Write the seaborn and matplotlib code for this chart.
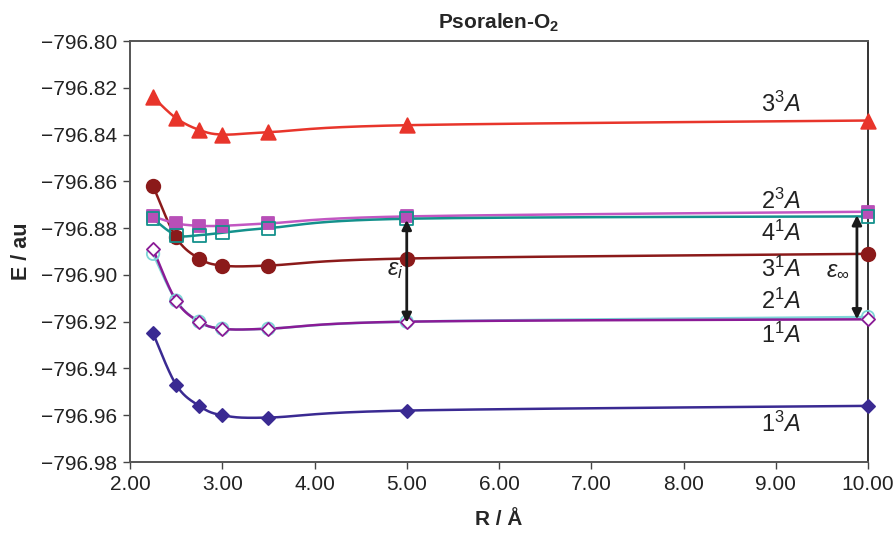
import numpy as np
import pandas as pd
import matplotlib
matplotlib.use("Agg")
import matplotlib.pyplot as plt
import seaborn as sns

# ---- data ----
R = [2.25, 2.5, 2.75, 3.0, 3.5, 5.0, 10.0]
E_3_3A = [-796.824, -796.833, -796.838, -796.840, -796.839, -796.836, -796.834]
E_2_3A = [-796.875, -796.878, -796.879, -796.879, -796.878, -796.875, -796.873]
E_4_1A = [-796.876, -796.883, -796.883, -796.882, -796.880, -796.876, -796.875]
E_3_1A = [-796.862, -796.884, -796.893, -796.896, -796.896, -796.893, -796.891]
E_2_1A = [-796.891, -796.911, -796.920, -796.923, -796.923, -796.920, -796.918]
E_1_1A = [-796.889, -796.911, -796.920, -796.923, -796.923, -796.920, -796.919]
E_1_3A = [-796.925, -796.947, -796.956, -796.960, -796.961, -796.958, -796.956]

state_labels = ["$3^3\\mathit{A}$", "$2^3\\mathit{A}$", "$4^1\\mathit{A}$", "$3^1\\mathit{A}$",
                "$2^1\\mathit{A}$", "$1^1\\mathit{A}$", "$1^3\\mathit{A}$"]
label_E = [-796.8270, -796.8685, -796.8822, -796.8975, -796.9115, -796.9258, -796.9638]
x_ticks = [2.0, 3.0, 4.0, 5.0, 6.0, 7.0, 8.0, 9.0, 10.0]
y_ticks = [-796.80, -796.82, -796.84, -796.86, -796.88, -796.90, -796.92, -796.94, -796.96, -796.98]

sns.set_theme(style="white")
plt.rcParams['font.family'] = ['Liberation Sans', 'DejaVu Sans']
plt.rcParams['mathtext.fontset'] = 'custom'
plt.rcParams['mathtext.rm'] = 'Liberation Sans'
plt.rcParams['mathtext.it'] = 'Liberation Sans:italic'
plt.rcParams['mathtext.bf'] = 'Liberation Sans:bold'


def smooth(x, y, n=40):
    P = np.column_stack([x, y]).astype(float)
    P = np.vstack([P[0], P, P[-1]])
    out = []
    t = np.linspace(0, 1, n)
    h00 = 2 * t**3 - 3 * t**2 + 1
    h10 = t**3 - 2 * t**2 + t
    h01 = -2 * t**3 + 3 * t**2
    h11 = t**3 - t**2
    for i in range(1, len(P) - 2):
        p0, p1 = P[i], P[i + 1]
        m0 = (P[i + 1] - P[i - 1]) / 2
        m1 = (P[i + 2] - P[i]) / 2
        seg = (h00[:, None] * p0 + h10[:, None] * m0 + h01[:, None] * p1 + h11[:, None] * m1)
        out.append(seg if i == 1 else seg[1:])
    s = np.vstack(out)
    return s[:, 0], s[:, 1]


fig = plt.figure(figsize=(8.94, 5.33), dpi=100)
ax = fig.add_axes([130 / 894, 1 - 462 / 533, (868 - 130) / 894, (462 - 41) / 533])

series = [
    # values, line color, marker, face, edge, size
    (E_3_3A, "#e8352b", "^", "#e8352b", "#e8352b", 110),
    (E_3_1A, "#8b1a1a", "o", "#8b1a1a", "#8b1a1a", 95),
    (E_2_3A, "#c257c2", "s", "#b84fb8", "#b84fb8", 85),
    (E_4_1A, "#14918c", "s", "none", "#14918c", 85),
    (E_2_1A, "#7fd6d8", "o", "none", "#7fd6d8", 80),
    (E_1_1A, "#8a1b96", "D", "white", "#8a1b96", 45),
    (E_1_3A, "#3a2a92", "D", "#3a2a92", "#3a2a92", 45),
]

for vals, lc, mk, fc, ec, sz in series:
    sx, sy = smooth(R, vals)
    sns.lineplot(x=sx, y=sy, ax=ax, color=lc, lw=1.8, sort=False, estimator=None)
    sns.scatterplot(x=R, y=vals, ax=ax, marker=mk, s=sz, facecolor=fc,
                    edgecolor=ec, linewidth=1.3, zorder=5, clip_on=False)

ax.set_xlim(2.0, 10.0)
ax.set_ylim(-796.98, -796.80)
ax.set_xticks(x_ticks)
ax.set_yticks(y_ticks)
ax.set_xticklabels([f"{v:.2f}" for v in x_ticks], fontsize=15)
ax.set_yticklabels([f"\u2212{abs(v):.2f}" for v in y_ticks], fontsize=15)
ax.tick_params(axis='both', direction='out', length=5, width=1, color='#444444',
               left=True, bottom=True, pad=4, labelcolor='#222222')
for side in ['left', 'bottom', 'top']:
    ax.spines[side].set_color('#555555')
    ax.spines[side].set_linewidth(1.4)
ax.spines['right'].set_color('#111111')
ax.spines['right'].set_linewidth(1.2)

ax.set_xlabel("R / Å", fontsize=15, fontweight='bold', labelpad=12)
ax.set_ylabel("E / au", fontsize=15.5, fontweight='bold', labelpad=7)
ax.set_title("Psoralen-O$_\\mathbf{2}$", fontsize=15, fontweight='bold', pad=9)

# state labels
for lab, ey in zip(state_labels, label_E):
    ax.text(9.05, ey, lab, fontsize=17, ha='center', va='center', color='#222222')

# arrows
ax.annotate("", xy=(5.0, -796.8765), xytext=(5.0, -796.9205),
            arrowprops=dict(arrowstyle='<|-|>', color='#1a1a1a', lw=2.0,
                            mutation_scale=14, shrinkA=0, shrinkB=0), zorder=6)
ax.text(4.87, -796.898, "$\\varepsilon_i$", fontsize=17, ha='center', va='center', color='#222222')
ax.annotate("", xy=(9.88, -796.8745), xytext=(9.88, -796.919),
            arrowprops=dict(arrowstyle='<|-|>', color='#1a1a1a', lw=2.0,
                            mutation_scale=14, shrinkA=0, shrinkB=0), zorder=6)
ax.text(9.67, -796.898, "$\\varepsilon_\\infty$", fontsize=17, ha='center', va='center', color='#222222')

fig.savefig("out.png", dpi=100)
